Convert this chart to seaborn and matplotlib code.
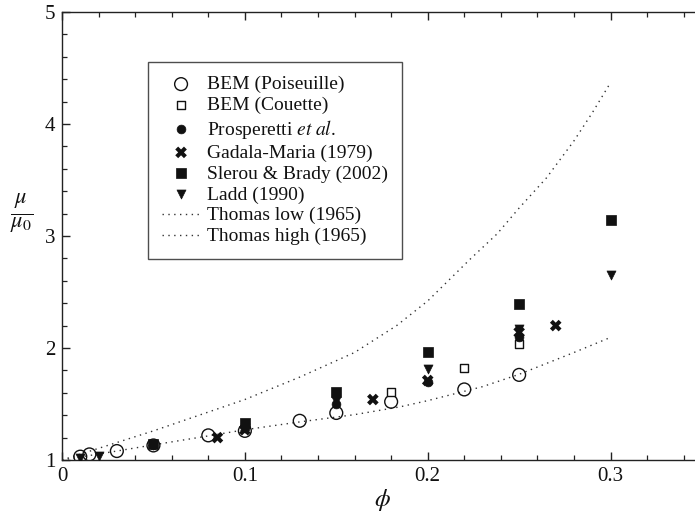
import numpy as np
import pandas as pd
import matplotlib
matplotlib.use("Agg")
import matplotlib.pyplot as plt
import seaborn as sns

# ---- data ----
phi_pois = [0.01, 0.015, 0.03, 0.05, 0.08, 0.10, 0.13, 0.15, 0.18, 0.22, 0.25]
mu_pois = [1.03, 1.05, 1.08, 1.13, 1.22, 1.26, 1.35, 1.42, 1.52, 1.63, 1.76]

phi_couette = [0.18, 0.22, 0.25]
mu_couette = [1.61, 1.82, 2.04]

phi_prosp = [0.05, 0.10, 0.15, 0.20, 0.25]
mu_prosp = [1.13, 1.29, 1.50, 1.70, 2.10]

phi_gadala = [0.085, 0.10, 0.17, 0.20, 0.25, 0.27]
mu_gadala = [1.20, 1.27, 1.54, 1.71, 2.14, 2.20]

phi_slerou = [0.05, 0.10, 0.15, 0.20, 0.25, 0.30]
mu_slerou = [1.14, 1.33, 1.61, 1.96, 2.39, 3.14]

phi_ladd = [0.01, 0.02, 0.05, 0.10, 0.15, 0.20, 0.25, 0.30]
mu_ladd = [1.02, 1.04, 1.13, 1.29, 1.53, 1.81, 2.17, 2.65]

phi_tlow = [0.0, 0.03, 0.05, 0.08, 0.10, 0.13, 0.16, 0.185, 0.20, 0.23, 0.25, 0.28, 0.30]
mu_tlow = [1.0, 1.08, 1.135, 1.215, 1.27, 1.34, 1.405, 1.475, 1.53, 1.655, 1.765, 1.96, 2.095]

phi_thigh = [0.0, 0.05, 0.10, 0.13, 0.16, 0.183, 0.20, 0.223, 0.238, 0.25, 0.265, 0.28, 0.29, 0.30]
mu_thigh = [1.0, 1.26, 1.54, 1.74, 1.96, 2.20, 2.42, 2.79, 3.02, 3.25, 3.52, 3.85, 4.10, 4.37]

labels = ["BEM (Poiseuille)", "BEM (Couette)", r"Prosperetti $\mathit{et\ al}$.",
          "Gadala-Maria (1979)", "Slerou & Brady (2002)", "Ladd (1990)",
          "Thomas low (1965)", "Thomas high (1965)"]

# ---- style ----
sns.set_theme(style="ticks")
plt.rcParams["font.family"] = ["Liberation Serif", "DejaVu Serif"]
plt.rcParams["mathtext.fontset"] = "stix"

W, H = 695, 516
fig = plt.figure(figsize=(W / 100, H / 100), dpi=100)
x0, x1 = 62, 702
y0, y1 = 460, 12
ax = fig.add_axes([x0 / W, 1 - y0 / H, (x1 - x0) / W, (y0 - y1) / H])

ink = "#111111"
lcol = "#333333"

# lines
sns.lineplot(x=phi_tlow, y=mu_tlow, ax=ax, color=lcol, lw=1.0,
             linestyle=(0, (1, 3.2)), sort=False, label=labels[6])
sns.lineplot(x=phi_thigh, y=mu_thigh, ax=ax, color=lcol, lw=1.0,
             linestyle=(0, (1, 3.2)), sort=False, label=labels[7])

# markers
sns.scatterplot(x=phi_pois, y=mu_pois, ax=ax, marker="o", s=85,
                facecolor="none", edgecolor=ink, linewidth=1.0, label=labels[0], zorder=3)
sns.scatterplot(x=phi_couette, y=mu_couette, ax=ax, marker="s", s=36,
                facecolor="white", edgecolor=ink, linewidth=1.0, label=labels[1], zorder=3)
sns.scatterplot(x=phi_prosp, y=mu_prosp, ax=ax, marker="o", s=40,
                color=ink, edgecolor=ink, linewidth=0.5, label=labels[2], zorder=3)
sns.scatterplot(x=phi_gadala, y=mu_gadala, ax=ax, marker="X", s=70,
                color=ink, edgecolor="none", linewidth=0, label=labels[3], zorder=3)
sns.scatterplot(x=phi_slerou, y=mu_slerou, ax=ax, marker="s", s=45,
                color=ink, edgecolor=ink, linewidth=0.5, label=labels[4], zorder=3)
sns.scatterplot(x=phi_ladd, y=mu_ladd, ax=ax, marker="v", s=42,
                color=ink, edgecolor=ink, linewidth=0.5, label=labels[5], zorder=3)

ax.set_xlim(0, 0.35)
ax.set_ylim(1, 5)
ax.set_xticks([0, 0.1, 0.2, 0.3])
ax.set_xticklabels(["0", "0.1", "0.2", "0.3"])
ax.set_xticks(np.arange(0, 0.351, 0.02), minor=True)
ax.set_yticks([1, 2, 3, 4, 5])
ax.set_yticklabels(["1", "2", "3", "4", "5"])
ax.set_yticks(np.arange(1, 5.01, 0.2), minor=True)
for s in ax.spines.values():
    s.set_visible(True)
    s.set_color("#222222")
    s.set_linewidth(1.0)
ax.tick_params(which="both", direction="in", top=True, right=False,
               color="#222222", labelsize=15, labelcolor=ink)
ax.tick_params(which="major", length=6, width=1.0, pad=5)
ax.tick_params(which="minor", length=3.5, width=0.9)

ax.set_xlabel(r"$\phi$", fontsize=18, color=ink, labelpad=1)
ax.set_ylabel(r"$\frac{\mu}{\mu_0}$", fontsize=23, color=ink, rotation=0, labelpad=0)
ax.yaxis.set_label_coords((22 - x0) / (x1 - x0), (y0 - 235) / (y0 - y1))

h, l = ax.get_legend_handles_labels()
order = [l.index(t) for t in labels]
leg = ax.legend([h[i] for i in order], [l[i] for i in order],
                loc="upper left",
                bbox_to_anchor=((148 - x0) / (x1 - x0), (y0 - 62) / (y0 - y1)),
                borderaxespad=0, frameon=True, fancybox=False, shadow=False,
                fontsize=14, handlelength=2.0, handletextpad=0.35,
                labelspacing=0.17, borderpad=0.7, markerscale=1.0)
leg.get_frame().set_edgecolor("#222222")
leg.get_frame().set_linewidth(1.0)
for t in leg.get_texts():
    t.set_color(ink)

fig.savefig("out.png", dpi=100)
